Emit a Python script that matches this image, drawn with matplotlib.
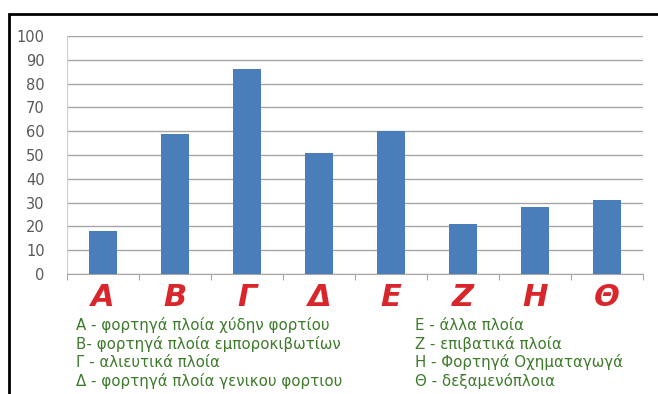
import matplotlib
matplotlib.use("Agg")
import matplotlib.pyplot as plt
from matplotlib.patches import Rectangle

categories = ["Α", "Β", "Γ", "Δ", "Ε", "Ζ", "Η", "Θ"]
values = [18, 59, 86, 51, 60, 21, 28, 31]
yticks = [0, 10, 20, 30, 40, 50, 60, 70, 80, 90, 100]
legend_left = ["Α - φορτηγά πλοία χύδην φορτίου",
               "Β- φορτηγά πλοία εμποροκιβωτίων",
               "Γ - αλιευτικά πλοία",
               "Δ - φορτηγά πλοία γενικου φορτιου"]
legend_right = ["Ε - άλλα πλοία",
                "Ζ - επιβατικά πλοία",
                "Η - Φορτηγά Οχηματαγωγά",
                "Θ - δεξαμενόπλοια"]

W, H = 658, 394
fig = plt.figure(figsize=(W / 100, H / 100), dpi=100)

# outer black frame
fig.patches.append(Rectangle((9 / W, -0.1), 1.2, 1 - 14 / H + 0.1,
                             transform=fig.transFigure, fill=False,
                             edgecolor="black", linewidth=2))

ax = fig.add_axes([67 / W, 1 - 274 / H, (643 - 67) / W, (274 - 36) / H])
x = range(len(categories))
ax.bar(x, values, width=0.39, color="#4a7ebb", zorder=3)
ax.set_xlim(-0.5, len(categories) - 0.5)
ax.set_ylim(0, 100)
ax.set_yticks(yticks)
ax.yaxis.grid(True, color="#a6a6a6", linewidth=1)
ax.set_axisbelow(True)
for s in ["top", "right"]:
    ax.spines[s].set_visible(False)
ax.spines["left"].set_color("#d0d0d0")
ax.spines["bottom"].set_color("#a6a6a6")
ax.tick_params(axis="y", length=0, labelsize=10.5, labelcolor="#595959", pad=16)
ax.set_xticks([i + 0.5 for i in range(-1, len(categories))])
ax.set_xticklabels([])
ax.tick_params(axis="x", length=4, color="#a6a6a6")

for i, c in enumerate(categories):
    ax.text(i, -9.8, c, ha="center", va="center", fontsize=22,
            style="italic", fontweight="bold", color="#d9262b",
            transform=ax.transData)

# baselines of the legend rows, in pixels from the top
rows_y = [330, 349, 367, 386]
for yy, l, r in zip(rows_y, legend_left, legend_right):
    fig.text(76 / W, 1 - yy / H, l, ha="left", va="baseline", fontsize=10.8, color="#3d7a2a")
    fig.text(415 / W, 1 - yy / H, r, ha="left", va="baseline", fontsize=10.8, color="#3d7a2a")

fig.savefig("out.png", dpi=100)
